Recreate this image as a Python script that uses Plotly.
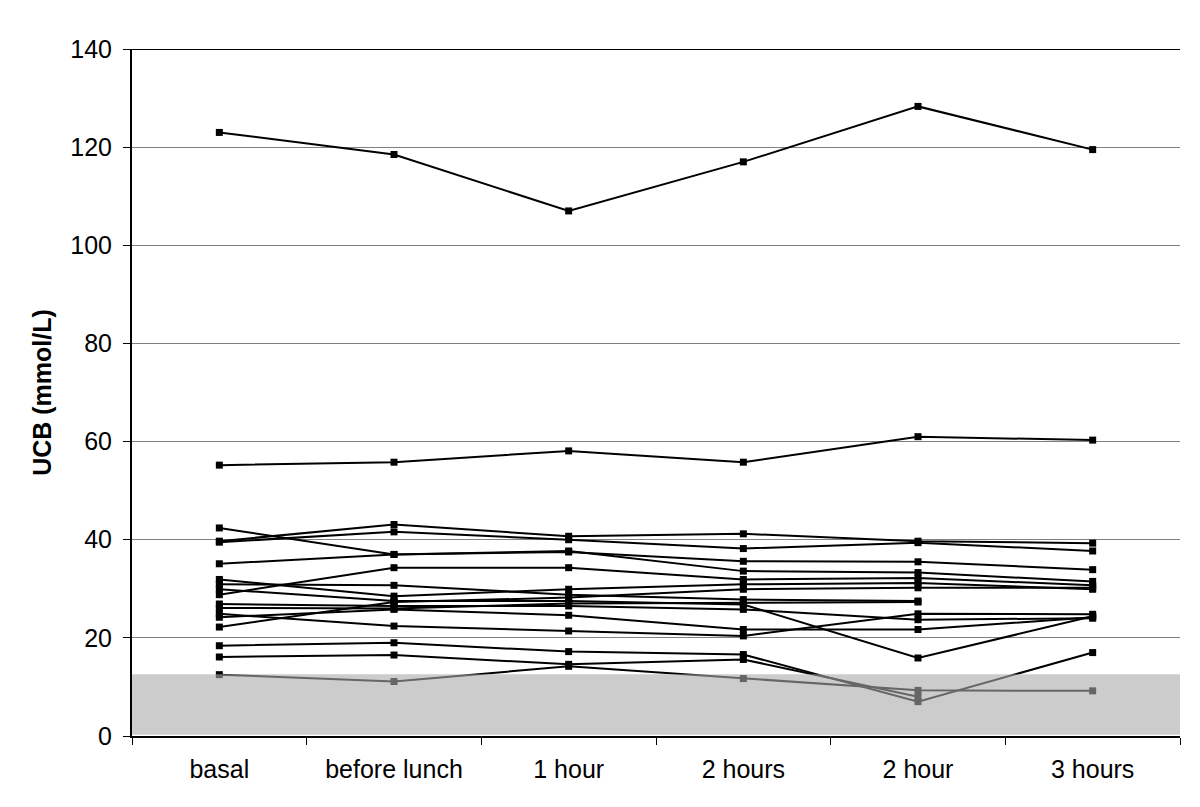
import plotly.graph_objects as go

categories = ["basal", "before lunch", "1 hour", "2 hours", "2 hour", "3 hours"]

s01 = [123.0, 118.5, 107.0, 117.0, 128.3, 119.5]
s02 = [55.2, 55.8, 58.1, 55.8, 61.0, 60.3]
s03 = [39.7, 43.1, 40.7, 41.2, 39.7, 39.3]
s04 = [39.5, 41.6, 40.0, 38.2, 39.4, 37.7]
s05 = [42.4, 37.0, 37.7, 33.6, 33.3, 31.5]
s06 = [35.1, 37.0, 37.5, 35.6, 35.5, 33.9]
s07 = [28.8, 34.3, 34.3, 31.9, 32.2, 30.7]
s08 = [31.9, 28.5, 29.9, 30.9, 31.2, 29.9]
s09 = [22.2, 27.3, 28.2, 29.9, 30.2, 30.2]
s10 = [30.9, 30.7, 28.8, 27.8, 27.5, None]
s11 = [26.1, 26.0, 27.0, 27.2, 27.3, None]
s12 = [29.9, 27.5, 27.5, 26.8, 15.9, 24.4]
s13 = [26.9, 26.5, 26.5, 25.8, 23.7, 24.0]
s14 = [24.2, 25.8, 24.6, 21.7, 21.7, 24.2]
s15 = [24.9, 22.4, 21.4, 20.4, 24.9, 24.8]
s16 = [18.4, 19.0, 17.2, 16.6, 7.0, 17.0]
s17 = [16.1, 16.5, 14.6, 15.6, 8.0, None]
s18 = [12.5, 11.1, 14.2, 11.7, 9.3, 9.2]

series = [s01, s02, s03, s04, s05, s06, s07, s08, s09, s10, s11, s12,
          s13, s14, s15, s16, s17, s18]

shade_top = 12.6
y_ticks = [0, 20, 40, 60, 80, 100, 120, 140]

fig = go.Figure()
for i, s in enumerate(series):
    fig.add_trace(go.Scatter(
        x=categories, y=s, mode="lines+markers",
        line=dict(color="black", width=2),
        marker=dict(symbol="square", size=7, color="black"),
        connectgaps=False, showlegend=False, name=f"S{i+1}"))

fig.add_shape(type="rect", xref="paper", x0=0, x1=1, yref="y", y0=0.25, y1=shade_top,
              fillcolor="rgba(170,170,170,0.6)", line=dict(width=0), layer="above")
fig.add_shape(type="line", xref="paper", x0=0, x1=1, yref="y", y0=140, y1=140,
              line=dict(color="black", width=2), layer="above")

fig.update_layout(
    width=1200, height=807,
    margin=dict(l=124, r=28, t=41, b=79),
    plot_bgcolor="white", paper_bgcolor="white",
    font=dict(family="Liberation Sans, Arial, sans-serif", size=25, color="black"),
    xaxis=dict(type="category", range=[-0.5, 5.5], showgrid=False,
               showline=True, linecolor="black", linewidth=2,
               ticks="outside", tickson="boundaries", ticklen=7, tickcolor="black",
               ticklabelstandoff=10, tickfont=dict(size=25)),
    yaxis=dict(range=[0, 140], tickvals=y_ticks, showgrid=True, gridcolor="#808080",
               gridwidth=1, showline=True, linecolor="black", linewidth=2,
               ticks="outside", ticklen=7, tickcolor="black", zeroline=False,
               ticklabelstandoff=6, tickfont=dict(size=25),
               title=dict(text="<b>UCB (mmol/L)</b>", font=dict(size=25), standoff=12)),
)

fig.write_html("out.html")
